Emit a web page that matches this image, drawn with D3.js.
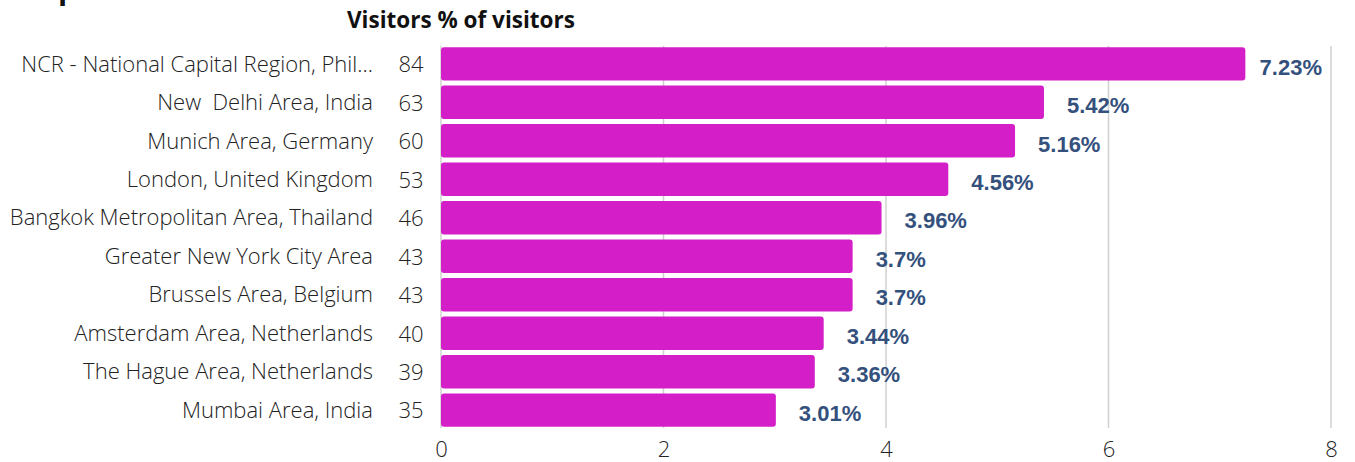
<!DOCTYPE html>
<html>
<head>
<meta charset="utf-8">
<script src="https://cdn.jsdelivr.net/npm/d3@7"></script>
<style>
  body { margin: 0; background: #fff; }
  svg { display: block; }
</style>
</head>
<body>
<div id="chart"></div>
<script>
const locations = [
  "NCR - National Capital Region, Phil...",
  "New  Delhi Area, India",
  "Munich Area, Germany",
  "London, United Kingdom",
  "Bangkok Metropolitan Area, Thailand",
  "Greater New York City Area",
  "Brussels Area, Belgium",
  "Amsterdam Area, Netherlands",
  "The Hague Area, Netherlands",
  "Mumbai Area, India"
];
const visitors = [84, 63, 60, 53, 46, 43, 43, 40, 39, 35];
const percents = [7.23, 5.42, 5.16, 4.56, 3.96, 3.7, 3.7, 3.44, 3.36, 3.01];
const xTicks = [0, 2, 4, 6, 8];

const data = locations.map((d, i) => ({ name: d, count: visitors[i], pct: percents[i] }));

const width = 1355, height = 462;
const margin = { top: 46, right: 24, bottom: 34, left: 441 };

const svg = d3.select("#chart")
  .append("svg")
  .attr("width", width)
  .attr("height", height);

const xScale = d3.scaleLinear()
  .domain([0, 8])
  .range([margin.left, width - margin.right]);

const yScale = d3.scaleBand()
  .domain(locations)
  .range([margin.top, height - margin.bottom])
  .paddingInner(0.13)
  .paddingOuter(0.03);

// cut-off title at the very top
svg.append("text")
  .attr("x", 22)
  .attr("y", -1)
  .attr("font-family", "Open Sans")
  .attr("font-weight", 700)
  .attr("font-size", 30)
  .attr("fill", "#111")
  .text("Top Locations");

svg.append("text")
  .attr("x", 347)
  .attr("y", 28)
  .attr("font-family", "Open Sans")
  .attr("font-weight", 700)
  .attr("font-size", 22.5)
  .attr("fill", "#111")
  .text("Visitors % of visitors");

// vertical grid lines
svg.append("g")
  .selectAll("line")
  .data(xTicks)
  .enter()
  .append("line")
  .attr("x1", (d) => xScale(d))
  .attr("x2", (d) => xScale(d))
  .attr("y1", margin.top)
  .attr("y2", height - margin.bottom)
  .attr("stroke", "#d0d0d0")
  .attr("stroke-width", 1.5);

// bars
svg.append("g")
  .selectAll("rect")
  .data(data)
  .enter()
  .append("rect")
  .attr("x", xScale(0))
  .attr("y", (d) => yScale(d.name))
  .attr("width", (d) => xScale(d.pct) - xScale(0))
  .attr("height", yScale.bandwidth())
  .attr("rx", 3)
  .attr("ry", 3)
  .attr("fill", "#d41fc8");

// location names
svg.append("g")
  .selectAll("text")
  .data(data)
  .enter()
  .append("text")
  .attr("x", 373)
  .attr("y", (d) => yScale(d.name) + yScale.bandwidth() / 2)
  .attr("dy", "0.35em")
  .attr("text-anchor", "end")
  .attr("font-family", "Open Sans")
  .attr("font-weight", 300)
  .attr("font-size", 22)
  .attr("fill", "#222")
  .style("white-space", "pre")
  .text((d) => d.name);

// visitor counts
svg.append("g")
  .selectAll("text")
  .data(data)
  .enter()
  .append("text")
  .attr("x", 411)
  .attr("y", (d) => yScale(d.name) + yScale.bandwidth() / 2)
  .attr("dy", "0.38em")
  .attr("text-anchor", "middle")
  .attr("font-family", "Open Sans")
  .attr("font-weight", 300)
  .attr("font-size", 22)
  .attr("fill", "#222")
  .text((d) => d.count);

// percent labels, kept inside the plot on the right
svg.append("g")
  .selectAll("text")
  .data(data)
  .enter()
  .append("text")
  .attr("y", (d) => yScale(d.name) + yScale.bandwidth() / 2 + 3)
  .attr("dy", "0.35em")
  .attr("font-family", "Liberation Sans, Arial, sans-serif")
  .attr("font-weight", 700)
  .attr("font-size", 22)
  .attr("fill", "#34507c")
  .text((d) => d.pct + "%")
  .attr("x", function (d) {
    const len = this.getComputedTextLength();
    return Math.min(xScale(d.pct) + 23, xScale(8) - len - 9);
  });

// x axis
const xAxis = svg.append("g")
  .attr("transform", `translate(0,${height - margin.bottom})`)
  .call(d3.axisBottom(xScale).tickValues(xTicks).tickSize(0).tickPadding(13));
xAxis.select(".domain").remove();
xAxis.selectAll("text")
  .attr("font-family", "Open Sans")
  .attr("font-weight", 300)
  .attr("font-size", 22)
  .attr("fill", "#222");
</script>
</body>
</html>
